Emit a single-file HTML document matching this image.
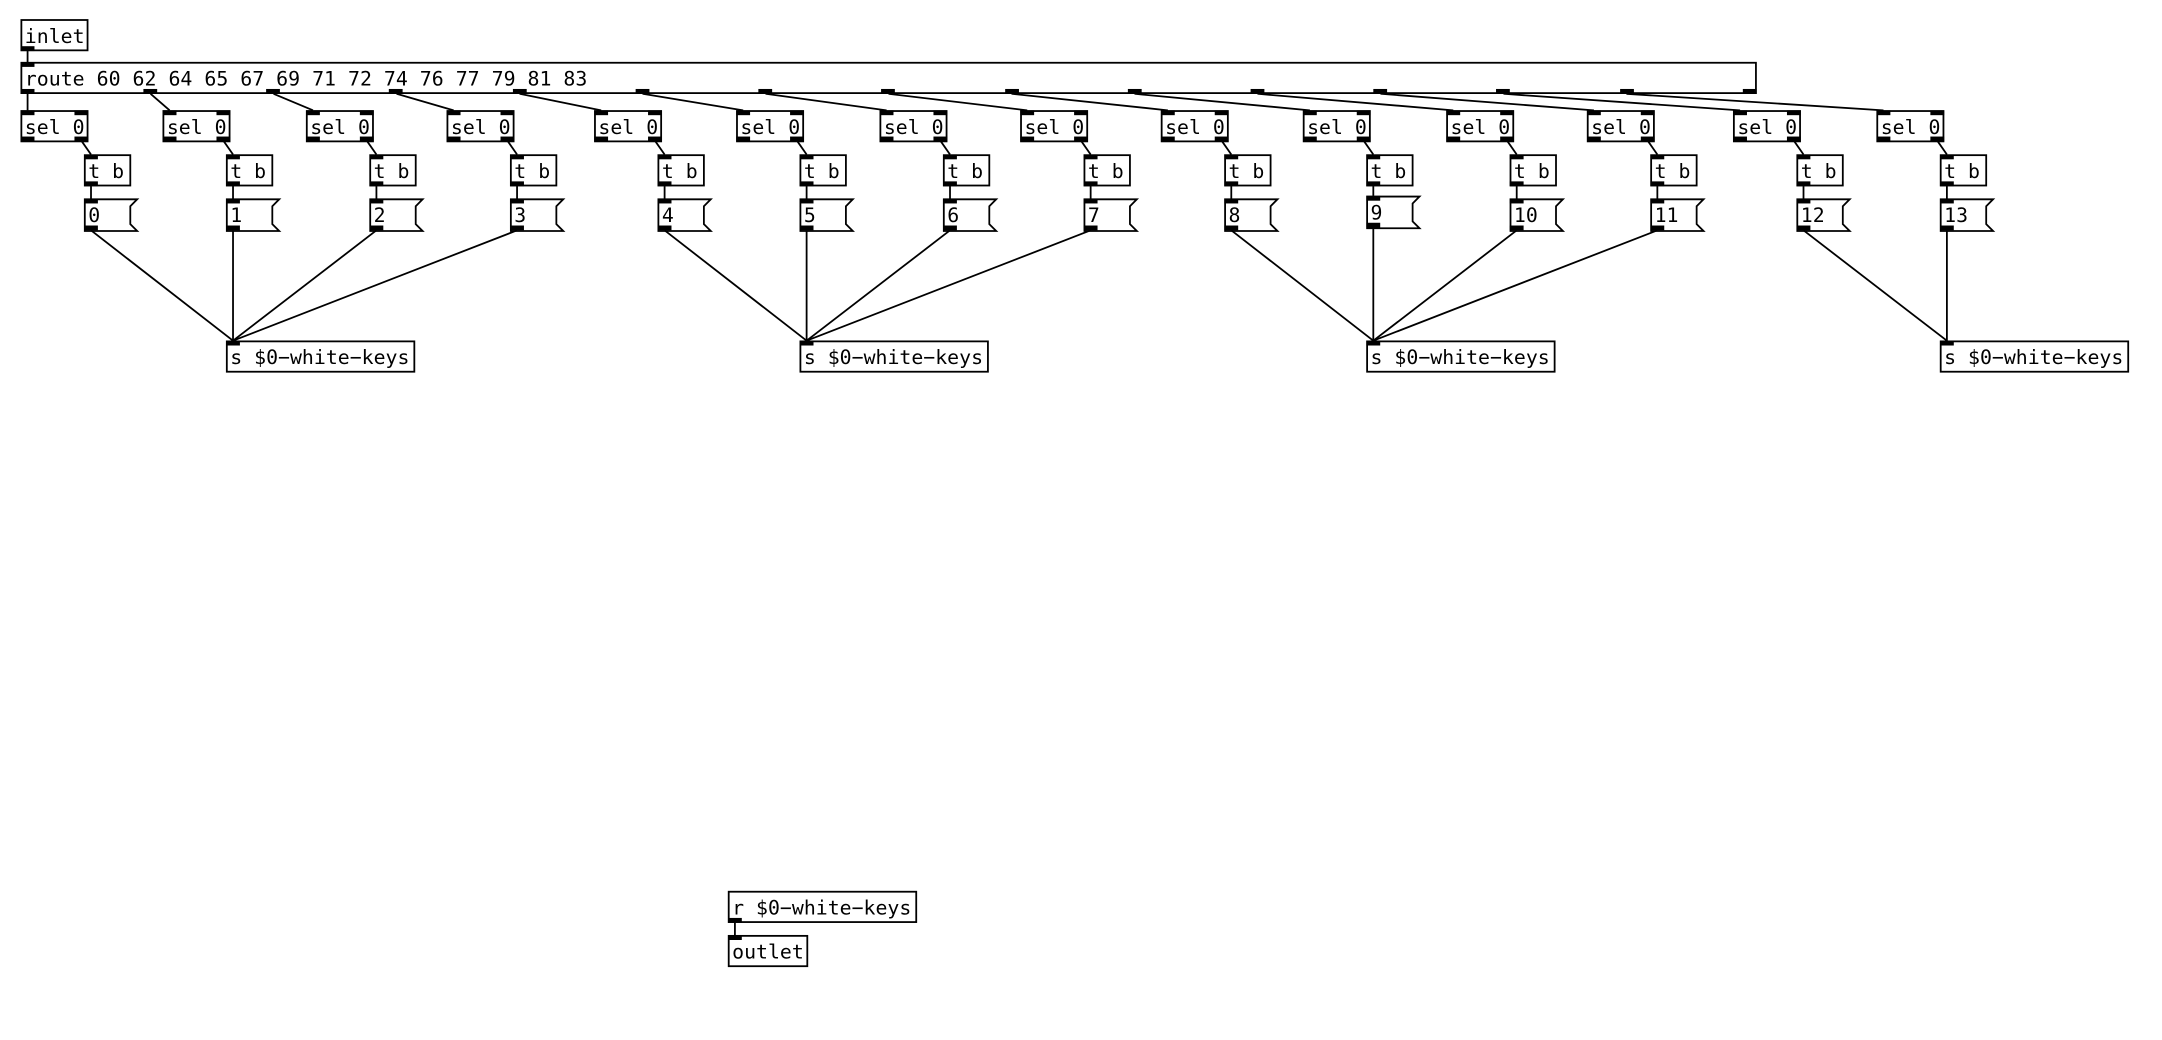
<!DOCTYPE html>
<html><head><meta charset="utf-8"><style>
html,body{margin:0;padding:0;background:#fff;}
svg{display:block;}
text{font-family:"DejaVu Sans Mono","Liberation Mono",monospace;font-size:14.4px;fill:#000;}
</style></head><body>
<svg width="2162" height="1040" viewBox="0 0 1568 754" preserveAspectRatio="none" xmlns="http://www.w3.org/2000/svg">
<g fill="none" stroke="#000" stroke-width="1.3">
<line x1="20" y1="37" x2="20" y2="45"/>
<line x1="20" y1="68" x2="20" y2="80"/>
<line x1="109.2" y1="68" x2="123" y2="80"/>
<line x1="198.4" y1="68" x2="227" y2="80"/>
<line x1="287.6" y1="68" x2="329" y2="80"/>
<line x1="376.8" y1="68" x2="436" y2="80"/>
<line x1="466" y1="68" x2="539" y2="80"/>
<line x1="555.2" y1="68" x2="643" y2="80"/>
<line x1="644.4" y1="68" x2="745" y2="80"/>
<line x1="733.6" y1="68" x2="847" y2="80"/>
<line x1="822.8" y1="68" x2="950" y2="80"/>
<line x1="912" y1="68" x2="1054" y2="80"/>
<line x1="1001.2" y1="68" x2="1156" y2="80"/>
<line x1="1090.4" y1="68" x2="1262" y2="80"/>
<line x1="1179.6" y1="68" x2="1366" y2="80"/>
<line x1="59" y1="102" x2="66" y2="112"/>
<line x1="162" y1="102" x2="169" y2="112"/>
<line x1="266" y1="102" x2="273" y2="112"/>
<line x1="368" y1="102" x2="375" y2="112"/>
<line x1="475" y1="102" x2="482" y2="112"/>
<line x1="578" y1="102" x2="585" y2="112"/>
<line x1="682" y1="102" x2="689" y2="112"/>
<line x1="784" y1="102" x2="791" y2="112"/>
<line x1="886" y1="102" x2="893" y2="112"/>
<line x1="989" y1="102" x2="996" y2="112"/>
<line x1="1093" y1="102" x2="1100" y2="112"/>
<line x1="1195" y1="102" x2="1202" y2="112"/>
<line x1="1301" y1="102" x2="1308" y2="112"/>
<line x1="1405" y1="102" x2="1412" y2="112"/>
<line x1="66" y1="135" x2="66" y2="144"/>
<line x1="169" y1="135" x2="169" y2="144"/>
<line x1="273" y1="135" x2="273" y2="144"/>
<line x1="375" y1="135" x2="375" y2="144"/>
<line x1="482" y1="135" x2="482" y2="144"/>
<line x1="585" y1="135" x2="585" y2="144"/>
<line x1="689" y1="135" x2="689" y2="144"/>
<line x1="791" y1="135" x2="791" y2="144"/>
<line x1="893" y1="135" x2="893" y2="144"/>
<line x1="996" y1="135" x2="996" y2="142"/>
<line x1="1100" y1="135" x2="1100" y2="144"/>
<line x1="1202" y1="135" x2="1202" y2="144"/>
<line x1="1308" y1="135" x2="1308" y2="144"/>
<line x1="1412" y1="135" x2="1412" y2="144"/>
<line x1="66" y1="167" x2="169" y2="247"/>
<line x1="169" y1="167" x2="169" y2="247"/>
<line x1="273" y1="167" x2="169" y2="247"/>
<line x1="375" y1="167" x2="169" y2="247"/>
<line x1="482" y1="167" x2="585" y2="247"/>
<line x1="585" y1="167" x2="585" y2="247"/>
<line x1="689" y1="167" x2="585" y2="247"/>
<line x1="791" y1="167" x2="585" y2="247"/>
<line x1="893" y1="167" x2="996" y2="247"/>
<line x1="996" y1="165" x2="996" y2="247"/>
<line x1="1100" y1="167" x2="996" y2="247"/>
<line x1="1202" y1="167" x2="996" y2="247"/>
<line x1="1308" y1="167" x2="1412" y2="247"/>
<line x1="1412" y1="167" x2="1412" y2="247"/>
<line x1="533" y1="669" x2="533" y2="678"/>

<rect x="15.5" y="14.5" width="48" height="22"/>
<rect x="15.5" y="45.5" width="1258" height="22"/>
<rect x="15.5" y="80.5" width="48" height="22"/>
<rect x="118.5" y="80.5" width="48" height="22"/>
<rect x="222.5" y="80.5" width="48" height="22"/>
<rect x="324.5" y="80.5" width="48" height="22"/>
<rect x="431.5" y="80.5" width="48" height="22"/>
<rect x="534.5" y="80.5" width="48" height="22"/>
<rect x="638.5" y="80.5" width="48" height="22"/>
<rect x="740.5" y="80.5" width="48" height="22"/>
<rect x="842.5" y="80.5" width="48" height="22"/>
<rect x="945.5" y="80.5" width="48" height="22"/>
<rect x="1049.5" y="80.5" width="48" height="22"/>
<rect x="1151.5" y="80.5" width="48" height="22"/>
<rect x="1257.5" y="80.5" width="48" height="22"/>
<rect x="1361.5" y="80.5" width="48" height="22"/>
<rect x="61.5" y="112.5" width="33" height="22"/>
<rect x="164.5" y="112.5" width="33" height="22"/>
<rect x="268.5" y="112.5" width="33" height="22"/>
<rect x="370.5" y="112.5" width="33" height="22"/>
<rect x="477.5" y="112.5" width="33" height="22"/>
<rect x="580.5" y="112.5" width="33" height="22"/>
<rect x="684.5" y="112.5" width="33" height="22"/>
<rect x="786.5" y="112.5" width="33" height="22"/>
<rect x="888.5" y="112.5" width="33" height="22"/>
<rect x="991.5" y="112.5" width="33" height="22"/>
<rect x="1095.5" y="112.5" width="33" height="22"/>
<rect x="1197.5" y="112.5" width="33" height="22"/>
<rect x="1303.5" y="112.5" width="33" height="22"/>
<rect x="1407.5" y="112.5" width="33" height="22"/>
<path d="M61.5 144.5h38l-5 5v13l5 5h-38z"/>
<path d="M164.5 144.5h38l-5 5v13l5 5h-38z"/>
<path d="M268.5 144.5h38l-5 5v13l5 5h-38z"/>
<path d="M370.5 144.5h38l-5 5v13l5 5h-38z"/>
<path d="M477.5 144.5h38l-5 5v13l5 5h-38z"/>
<path d="M580.5 144.5h38l-5 5v13l5 5h-38z"/>
<path d="M684.5 144.5h38l-5 5v13l5 5h-38z"/>
<path d="M786.5 144.5h38l-5 5v13l5 5h-38z"/>
<path d="M888.5 144.5h38l-5 5v13l5 5h-38z"/>
<path d="M991.5 142.5h38l-5 5v13l5 5h-38z"/>
<path d="M1095.5 144.5h38l-5 5v13l5 5h-38z"/>
<path d="M1197.5 144.5h38l-5 5v13l5 5h-38z"/>
<path d="M1303.5 144.5h38l-5 5v13l5 5h-38z"/>
<path d="M1407.5 144.5h38l-5 5v13l5 5h-38z"/>
<rect x="164.5" y="247.5" width="136" height="22"/>
<rect x="580.5" y="247.5" width="136" height="22"/>
<rect x="991.5" y="247.5" width="136" height="22"/>
<rect x="1407.5" y="247.5" width="136" height="22"/>
<rect x="528.5" y="646.5" width="136" height="22"/>
<rect x="528.5" y="678.5" width="57" height="22"/>
</g>
<g fill="#000">
<rect x="15" y="33.5" width="10" height="3.5"/>
<rect x="15" y="45" width="10" height="3.5"/>
<rect x="15" y="64.5" width="10" height="3.5"/><rect x="104" y="64.5" width="10" height="3.5"/><rect x="193" y="64.5" width="10" height="3.5"/><rect x="282" y="64.5" width="10" height="3.5"/><rect x="372" y="64.5" width="10" height="3.5"/><rect x="461" y="64.5" width="10" height="3.5"/><rect x="550" y="64.5" width="10" height="3.5"/><rect x="639" y="64.5" width="10" height="3.5"/><rect x="729" y="64.5" width="10" height="3.5"/><rect x="818" y="64.5" width="10" height="3.5"/><rect x="907" y="64.5" width="10" height="3.5"/><rect x="996" y="64.5" width="10" height="3.5"/><rect x="1085" y="64.5" width="10" height="3.5"/><rect x="1175" y="64.5" width="10" height="3.5"/><rect x="1264" y="64.5" width="10" height="3.5"/>
<g id="s0"><rect x="15" y="80" width="10" height="3.5"/><rect x="54" y="80" width="10" height="3.5"/><rect x="15" y="99" width="10" height="3.5"/><rect x="54" y="99" width="10" height="3.5"/></g>
<use href="#s0" x="103"/><use href="#s0" x="207"/><use href="#s0" x="309"/><use href="#s0" x="416"/><use href="#s0" x="519"/><use href="#s0" x="623"/><use href="#s0" x="725"/><use href="#s0" x="827"/><use href="#s0" x="930"/><use href="#s0" x="1034"/><use href="#s0" x="1136"/><use href="#s0" x="1242"/><use href="#s0" x="1346"/>
<g id="t0"><rect x="61" y="112" width="10" height="3.5"/><rect x="61" y="131.5" width="10" height="3.5"/><rect x="61" y="144" width="10" height="3.5"/><rect x="61" y="163.5" width="10" height="3.5"/></g>
<use href="#t0" x="103"/><use href="#t0" x="207"/><use href="#t0" x="309"/><use href="#t0" x="416"/><use href="#t0" x="519"/><use href="#t0" x="623"/><use href="#t0" x="725"/><use href="#t0" x="827"/>
<rect x="991" y="112" width="10" height="3.5"/><rect x="991" y="131.5" width="10" height="3.5"/><rect x="991" y="142" width="10" height="3.5"/><rect x="991" y="161.5" width="10" height="3.5"/>
<use href="#t0" x="1034"/><use href="#t0" x="1136"/><use href="#t0" x="1242"/><use href="#t0" x="1346"/>
<rect x="164" y="247" width="10" height="3.5"/><rect x="580" y="247" width="10" height="3.5"/><rect x="991" y="247" width="10" height="3.5"/><rect x="1407" y="247" width="10" height="3.5"/>
<rect x="528" y="665.5" width="10" height="3.5"/><rect x="528" y="678" width="10" height="3.5"/>
</g>
<g>
<text x="18" y="31">inlet</text>
<text x="18" y="62" textLength="408" lengthAdjust="spacingAndGlyphs">route 60 62 64 65 67 69 71 72 74 76 77 79 81 83</text>
<text x="18" y="97">sel 0</text><text x="121" y="97">sel 0</text><text x="225" y="97">sel 0</text><text x="327" y="97">sel 0</text><text x="434" y="97">sel 0</text><text x="537" y="97">sel 0</text><text x="641" y="97">sel 0</text><text x="743" y="97">sel 0</text><text x="845" y="97">sel 0</text><text x="948" y="97">sel 0</text><text x="1052" y="97">sel 0</text><text x="1154" y="97">sel 0</text><text x="1260" y="97">sel 0</text><text x="1364" y="97">sel 0</text>
<text x="64" y="129">t b</text><text x="167" y="129">t b</text><text x="271" y="129">t b</text><text x="373" y="129">t b</text><text x="480" y="129">t b</text><text x="583" y="129">t b</text><text x="687" y="129">t b</text><text x="789" y="129">t b</text><text x="891" y="129">t b</text><text x="994" y="129">t b</text><text x="1098" y="129">t b</text><text x="1200" y="129">t b</text><text x="1306" y="129">t b</text><text x="1410" y="129">t b</text>
<text x="64" y="161">0</text><text x="167" y="161">1</text><text x="271" y="161">2</text><text x="373" y="161">3</text><text x="480" y="161">4</text><text x="583" y="161">5</text><text x="687" y="161">6</text><text x="789" y="161">7</text><text x="891" y="161">8</text><text x="994" y="159">9</text><text x="1098" y="161">10</text><text x="1200" y="161">11</text><text x="1306" y="161">12</text><text x="1410" y="161">13</text>
<text x="167" y="264">s $0−white−keys</text><text x="583" y="264">s $0−white−keys</text><text x="994" y="264">s $0−white−keys</text><text x="1410" y="264">s $0−white−keys</text>
<text x="531" y="663">r $0−white−keys</text>
<text x="531" y="695">outlet</text>
</g>
</svg>
</body></html>
